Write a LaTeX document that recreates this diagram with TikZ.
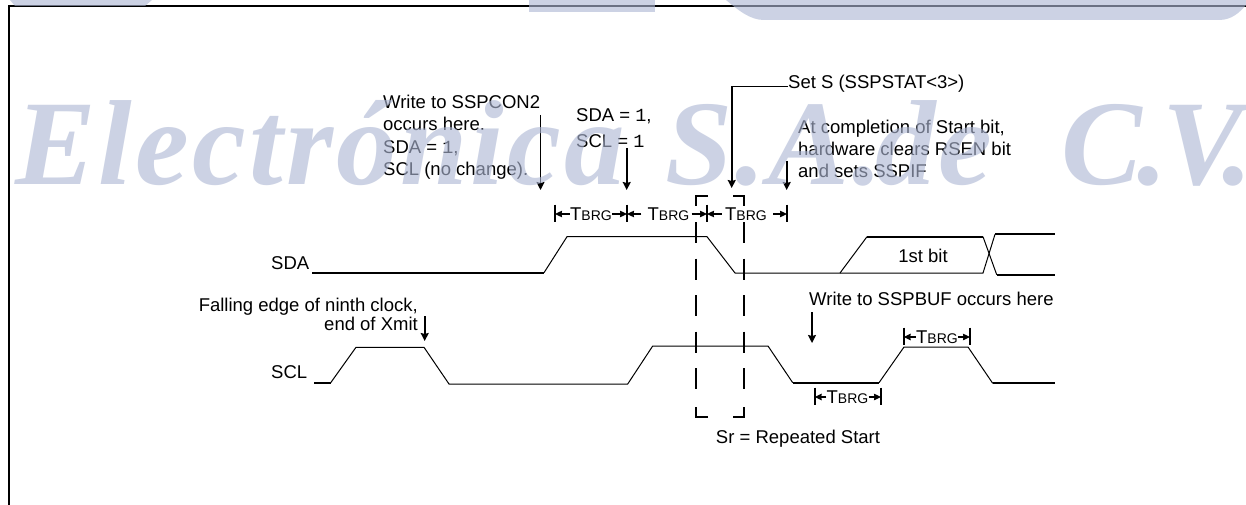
\documentclass[tikz,border=0pt]{standalone}
\usepackage{fontspec}
\setmainfont{Liberation Sans}
\newfontfamily\wmfont{Liberation Serif Bold Italic}[LetterSpace=2.6]
\newfontfamily\wmtight{Liberation Serif Bold Italic}[LetterSpace=-4]
\newfontfamily\cour{Liberation Mono}
\definecolor{wm}{HTML}{ADB7D4}
\newcommand{\tbrg}{T{\fontsize{14}{16}\selectfont BRG}}
\newcommand{\one}{{\cour 1}}
\usetikzlibrary{arrows.meta}
\tikzset{
  lbl/.style={inner sep=0pt,font=\fontsize{18.5}{22}\selectfont,align=left},
  thin wave/.style={line width=1pt,line join=miter},
  thick wave/.style={line width=2pt},
  pointer/.style={line width=1.6pt,-{Stealth[length=8pt,width=8pt,inset=1pt]}},
  span/.style={line width=1.2pt,-{Stealth[length=7pt,width=6.5pt,inset=0.5pt]}},
  tick/.style={line width=1.6pt},
  dash box/.style={line width=2pt},
  mark word/.style={anchor=base west,inner sep=0pt,text=wm,font={\wmfont\fontsize{121}{130}\selectfont}},
}
\begin{document}
\begin{tikzpicture}[x=1pt,y=-1pt]
\useasboundingbox (0,0) rectangle (1246,505);
\fill[white] (0,0) rectangle (1246,505);
% frame
\draw[line width=2pt] (9,505) -- (9,6.5) -- (1246,6.5);
% waveforms
\draw[thick wave] (312,272.7) -- (544,272.7);
\draw[thin wave] (544,272.7) -- (567,236.7) -- (707,236.7) -- (735,273) -- (840,273) -- (867,236.7);
\draw[thick wave] (867,236.7) -- (983,236.7);
\draw[thin wave] (983,236.7) -- (996.7,274.7);
\draw[thick wave] (996.7,274.7) -- (1055,274.7);
\draw[thin wave] (840,273) -- (983,273) -- (995,234.3);
\draw[thick wave] (995,234.3) -- (1055,234.3);
\draw[thick wave] (314,382.7) -- (330.7,382.7);
\draw[thin wave] (330.7,382.7) -- (356,347.3) -- (424,347.3) -- (449,384) -- (627.7,384) -- (652.7,346) -- (768,346) -- (792.7,382.7);
\draw[thick wave] (792.7,382.7) -- (879,382.7);
\draw[thin wave] (879,382.7) -- (904,347) -- (968,347) -- (992.7,383.3);
\draw[thick wave] (992.7,383.3) -- (1055,383.3);
% labels
\node[lbl,anchor=west] (sda) at (271,263) {SDA};
\node[lbl,anchor=west] (scl) at (271,372) {SCL};
\node[lbl,anchor=center] (first) at (923,256) {1st bit};
\node[lbl,anchor=north west] (w1) at (383,95) {Write to SSPCON2\\[0.3pt]occurs here.\\[0.3pt]SDA = \one,\\[0.3pt]SCL (no change).};
\node[lbl,anchor=north west] (w2) at (576,108) {SDA = \one,\\[4pt]SCL = \one};
\node[lbl,anchor=west] (sets) at (788,84) {Set S (SSPSTAT<3>)};
\node[lbl,anchor=north west] (comp) at (798,119.5) {At completion of Start bit,\\hardware clears RSEN bit\\and sets SSPIF};
\node[lbl,anchor=west] (wbuf) at (809,299) {Write to SSPBUF occurs here};
\node[lbl,anchor=north east,align=right] (fall) at (418,298) {Falling edge of ninth clock,\\[-3pt]end of Xmit};
\node[lbl,anchor=center] (sr) at (798,439) {Sr = Repeated Start};
% pointers
\coordinate (p1a) at (540.5,115); \coordinate (p1b) at (540.5,190);
\coordinate (p2a) at (626.7,148); \coordinate (p2b) at (626.7,190);
\coordinate (p3c) at (731.7,86.7); \coordinate (p3b) at (731.7,188);
\coordinate (p4a) at (786.7,161); \coordinate (p4b) at (786.7,190);
\coordinate (p5a) at (424.7,316); \coordinate (p5b) at (424.7,341);
\coordinate (p6a) at (812,312); \coordinate (p6b) at (812,343);
\draw[pointer] (p1a) -- (p1b);
\draw[pointer] (p2a) -- (p2b);
\draw[pointer] (sets.west |- p3c) -- (p3c) -- (p3b);
\draw[pointer] (p4a) -- (p4b);
\draw[pointer] (p5a) -- (p5b);
\draw[pointer] (p6a) -- (p6b);
% timing spans
\foreach \n/\x/\y in {a/555/213,b/627/213,c/707/213,d/787/213,e/814.7/396,f/881/396,g/903.7/336,h/970/336}{
  \coordinate (\n) at (\x,\y);
  \draw[tick] (\x,\y-8.5) -- (\x,\y+8.5);
}
\node[lbl] (t1) at (591,214) {\tbrg};
\node[lbl] (t2) at (668.5,214) {\tbrg};
\node[lbl] (t3) at (746,214) {\tbrg};
\node[lbl] (t4) at (847.5,397) {\tbrg};
\node[lbl] (t5) at (937,337) {\tbrg};
\draw[span] (t1.west) -- (a |- t1.west) ;
\draw[span] (t1.east) -- (b |- t1.east);
\draw[span] ([xshift=-6pt]t2.west) -- (b |- t2.west);
\draw[span] ([xshift=2pt]t2.east) -- (c |- t2.east);
\draw[span] ([xshift=-3pt]t3.west) -- (c |- t3.west);
\draw[span] ([xshift=6pt]t3.east) -- (d |- t3.east);
\draw[span] (t4.west) -- (e |- t4.west);
\draw[span] (t4.east) -- (f |- t4.east);
\draw[span] (t5.west) -- (g |- t5.west);
\draw[span] (t5.east) -- (h |- t5.east);
% dashed box
\draw[dash box] (708,196) -- (696,196) -- (696,206);
\draw[dash box] (733,196) -- (744,196) -- (744,206);
\draw[dash box] (708,417) -- (696,417) -- (696,407);
\draw[dash box] (733,417) -- (744,417) -- (744,407);
\draw[dash box,dash pattern=on 21pt off 15.5pt] (696,222) -- (696,391);
\draw[dash box,dash pattern=on 21pt off 15.5pt] (744,222) -- (744,391);
% watermark
\begin{scope}[opacity=0.62]
\node[mark word] (m1) at (15,184) {Electrónica};
\node[mark word] (m2) at (665,184) {S.A.};
\node[mark word] (m3) at (875,184) {de};
\node[mark word,font={\wmtight\fontsize{121}{130}\selectfont}] (m4) at (1061,184) {C.V.};
\fill[wm] (10,0) -- (152,0) -- (145,6) -- (15,6) -- cycle;
\fill[wm] (529,0) rectangle (655,12);
\fill[wm] (726,0) .. controls (738,10) and (750,20) .. (764,20) -- (1219,20) .. controls (1232,20) and (1240,12) .. (1246,5) -- (1246,0) -- cycle;
\end{scope}
\end{tikzpicture}
\end{document}
